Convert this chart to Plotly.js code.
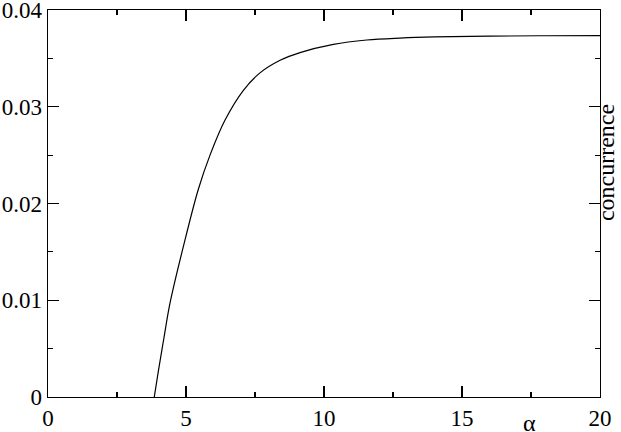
<!DOCTYPE html>
<html>
<head>
<meta charset="utf-8">
<script src="https://cdn.plot.ly/plotly-3.0.1.min.js"></script>
<style>html,body{margin:0;padding:0;background:#fff;}#chart{width:621px;height:432px;}</style>
</head>
<body>
<div id="chart"></div>
<script>
const alpha = [3.85, 4.0, 4.2, 4.42, 4.9, 5.45, 5.87, 6.41, 7.08, 7.68, 8.41, 9.13, 10.34, 11.55, 12.75, 14, 16, 18, 20];
const concurrence = [0, 0.0027, 0.0061, 0.0097, 0.0155, 0.0215, 0.0250, 0.0286, 0.0317, 0.0335, 0.0348, 0.0356, 0.03645, 0.0369, 0.0371, 0.03722, 0.0373, 0.03734, 0.03736];
const xTicks = [0, 5, 10, 15, 20];
const xTickText = ["0", "5", "10", "15", "20"];
const yTicks = [0, 0.01, 0.02, 0.03, 0.04];
const yTickText = ["0", "0.01", "0.02", "0.03", "0.04"];
const xTitle = "α";
const yTitle = "concurrence";

const font = {family: "Liberation Serif", color: "#000"};

const trace = {
  x: alpha, y: concurrence, type: "scatter", mode: "lines",
  line: {color: "#000", width: 1.2, shape: "spline", smoothing: 1},
  hoverinfo: "skip"
};

const axisCommon = {
  showline: true, linecolor: "#000", linewidth: 1.3, mirror: "ticks",
  ticks: "inside", ticklen: 11, tickwidth: 1.2, tickcolor: "#000",
  showgrid: false, zeroline: false, ticklabeloverflow: "allow",
  tickfont: Object.assign({size: 23}, font)
};

const layout = {
  width: 621, height: 432,
  margin: {l: 48, r: 21, t: 10, b: 35},
  paper_bgcolor: "#fff", plot_bgcolor: "#fff",
  showlegend: false,
  font: font,
  xaxis: Object.assign({}, axisCommon, {
    range: [0, 20], tickmode: "array", tickvals: xTicks, ticktext: xTickText,
    minor: {ticks: "inside", ticklen: 5, dtick: 2.5, tick0: 0, tickcolor: "#000", tickwidth: 1.2, showgrid: false}
  }),
  yaxis: Object.assign({}, axisCommon, {
    range: [0, 0.04], tickmode: "array", tickvals: yTicks, ticktext: yTickText,
    minor: {ticks: "inside", ticklen: 5, dtick: 0.005, tick0: 0, tickcolor: "#000", tickwidth: 1.2, showgrid: false}
  }),
  annotations: [
    {text: xTitle, xref: "paper", yref: "paper", x: 0.873, y: -0.105, showarrow: false,
     xanchor: "center", yanchor: "bottom", font: Object.assign({size: 24}, font)},
    {text: yTitle, xref: "paper", yref: "paper", x: 1.038, y: 0.607, showarrow: false,
     textangle: -90, xanchor: "right", yanchor: "middle", font: Object.assign({size: 24}, font)}
  ]
};

Plotly.newPlot("chart", [trace], layout, {staticPlot: true, displayModeBar: false});
</script>
</body>
</html>
